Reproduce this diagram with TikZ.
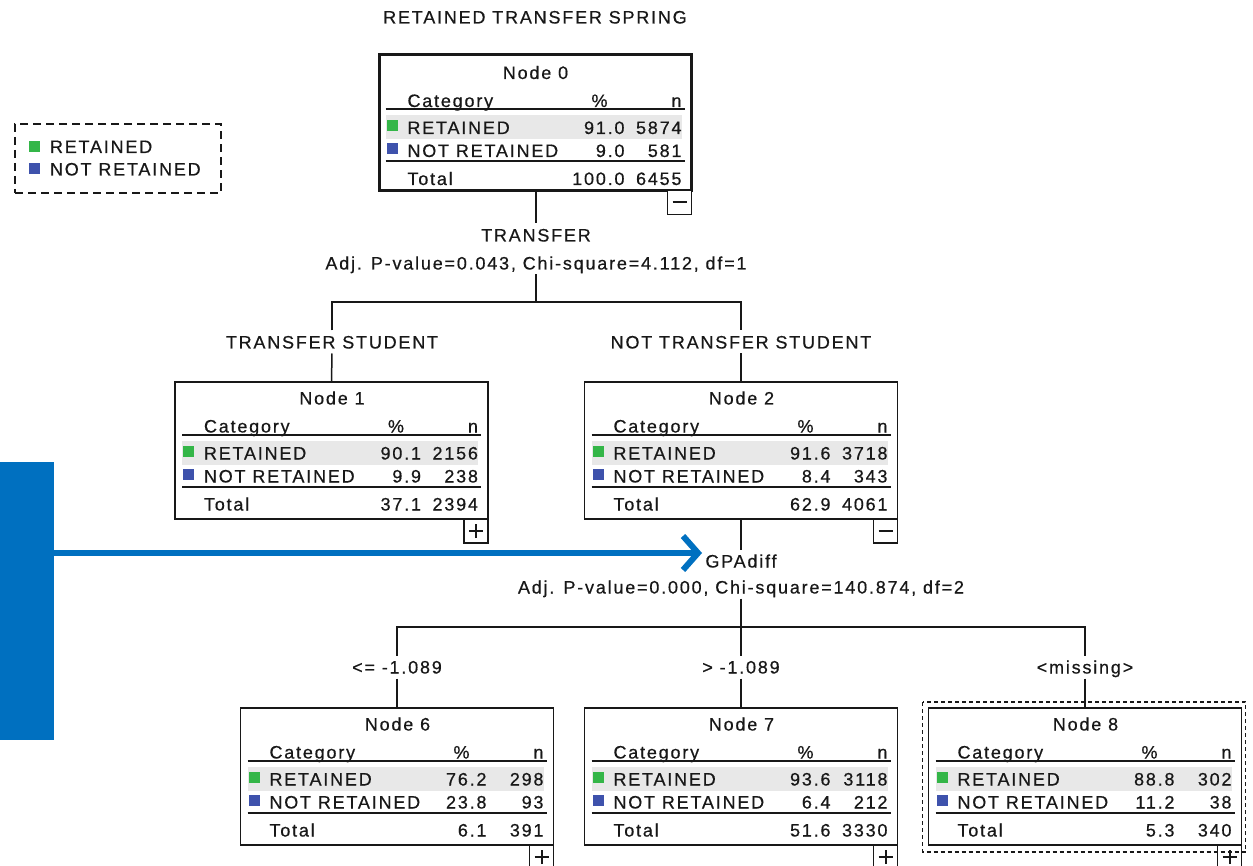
\documentclass[tikz,border=0pt]{standalone}
\usepackage{fontspec}
\setmainfont{Liberation Sans}[LetterSpace=10,FakeBold=0.5]
\usetikzlibrary{arrows.meta,calc}

\definecolor{catgreen}{RGB}{52,182,72}
\definecolor{catblue}{RGB}{62,82,172}
\definecolor{rowgray}{RGB}{232,232,232}
\definecolor{accent}{RGB}{0,112,192}
\definecolor{ink}{RGB}{24,24,24}

\tikzset{
  tx/.style={inner sep=0pt, outer sep=0pt, text height=13pt, text depth=0pt, text=ink},
  lbl/.style={tx, inner xsep=3pt, inner ysep=5pt},
  catbox/.style={draw=ink, line width=1.5pt, fill=white, minimum width=313pt,
    minimum height=137pt, inner sep=0pt, outer sep=0pt, anchor=north west},
  rootbox/.style={catbox, line width=3pt, minimum width=312pt, minimum height=136pt},
  togbox/.style={draw=ink, line width=1.5pt, fill=white, minimum width=24pt,
    minimum height=24pt, inner sep=0pt, outer sep=0pt, anchor=north east},
  signline/.style={draw=ink, line width=2pt},
  edge/.style={draw=ink, line width=1.5pt},
  rulebar/.style={draw=ink, line width=2pt},
  legendbox/.style={draw=ink, line width=1.5pt, dash pattern=on 8pt off 5pt,
    minimum width=206pt, minimum height=69pt, inner sep=0pt, outer sep=0pt, anchor=north west},
  selline/.style={draw=ink, line width=1.5pt, dash pattern=on 4pt off 3pt},
}

% category table inside a tree node: name, extra offset, title, then % and n for each row
\newcommand\cattable[9]{%
  \begin{scope}[shift={($(#1.north west)+(#2)$)}]
    \fill[rowgray] (7,59) rectangle (303,83);
    \draw[rulebar] (7,53) -- (306,53);
    \draw[rulebar] (7,105) -- (306,105);
    \fill[catgreen] (8,64) rectangle (19,75);
    \fill[catblue] (8,87) rectangle (19,98);
    \node[tx] (#1-title) at (157,16) {#3};
    \node[tx,anchor=west] (#1-cat) at (29,44) {Category};
    \node[tx] (#1-pcthead) at (221,44) {\%};
    \node[tx,anchor=east] (#1-nhead) at (303,44) {n};
    \node[tx,anchor=west] (#1-ret) at (29,71) {RETAINED};
    \node[tx,anchor=east] (#1-retp) at (246,71) {#4};
    \node[tx,anchor=east] (#1-retn) at (303,71) {#5};
    \node[tx,anchor=west] (#1-not) at (29,94) {NOT RETAINED};
    \node[tx,anchor=east] (#1-notp) at (246,94) {#6};
    \node[tx,anchor=east] (#1-notn) at (303,94) {#7};
    \node[tx,anchor=west] (#1-tot) at (29,122) {Total};
    \node[tx,anchor=east] (#1-totp) at (246,122) {#8};
    \node[tx,anchor=east] (#1-totn) at (303,122) {#9};
  \end{scope}}

% expand / collapse toggles below a node
\newcommand\plustog[1]{%
  \node[togbox] (#1-tog) at (#1.south east) {};
  \draw[signline] ([xshift=-7pt]#1-tog.center) -- ([xshift=7pt]#1-tog.center);
  \draw[signline] ([yshift=-7pt]#1-tog.center) -- ([yshift=7pt]#1-tog.center);}
\newcommand\minustog[1]{%
  \node[togbox] (#1-tog) at (#1.south east) {};
  \draw[signline] ([xshift=-7pt]#1-tog.center) -- ([xshift=7pt]#1-tog.center);}

\begin{document}
\begin{tikzpicture}[x=1pt, y=-1pt, font=\fontsize{18}{20}\selectfont]
\useasboundingbox[fill=white] (0,0) rectangle (1253,866);

% title and legend
\node[lbl] (title) at (535,17) {RETAINED TRANSFER SPRING};
\node[legendbox] (legend) at (15,124) {};
\fill[catgreen] (29,141) rectangle (40,152);
\fill[catblue] (29,163) rectangle (40,174);
\node[tx,anchor=west] (legret) at (50,146.5) {RETAINED};
\node[tx,anchor=west] (legnot) at (50,169) {NOT RETAINED};

% tree nodes
\node[rootbox] (n0) at (379.5,54.5) {};
\cattable{n0}{-1,2}{Node 0}{91.0}{5874}{9.0}{581}{100.0}{6455}
\minustog{n0}

\node[catbox] (n1) at (175,382) {};
\cattable{n1}{0,0}{Node 1}{90.1}{2156}{9.9}{238}{37.1}{2394}
\plustog{n1}

\node[catbox] (n2) at (584.5,382) {};
\cattable{n2}{0,0}{Node 2}{91.6}{3718}{8.4}{343}{62.9}{4061}
\minustog{n2}

\node[catbox] (n6) at (240.5,708) {};
\cattable{n6}{0,0}{Node 6}{76.2}{298}{23.8}{93}{6.1}{391}
\plustog{n6}

\node[catbox] (n7) at (584.5,708) {};
\cattable{n7}{0,0}{Node 7}{93.6}{3118}{6.4}{212}{51.6}{3330}
\plustog{n7}

\node[catbox] (n8) at (928.5,708) {};
\cattable{n8}{0,0}{Node 8}{88.8}{302}{11.2}{38}{5.3}{340}
\plustog{n8}
\draw[selline] ($(n8.north west)+(-6,-6)$) rectangle ($(n8.south east)+(4,7)$);

% first split
\node[lbl] (v0) at (536,235) {TRANSFER};
\node[lbl] (a0) at (536,263) {Adj. P-value=0.043, Chi-square=4.112, df=1};
\coordinate (s0) at (536,302);
\node[lbl] (l1) at (332,342) {TRANSFER STUDENT};
\node[lbl] (l2) at (741,342) {NOT TRANSFER STUDENT};
\draw[edge] (n0.south -| v0) -- (v0.north);
\draw[edge] (a0.south) -- (s0);
\draw[edge] (l1.north) |- (s0) -| (l2.north);
\draw[edge] (l1.south) -- (n1.north);
\draw[edge] (l2.south) -- (n2.north);

% second split
\node[lbl] (v2) at (741,561) {GPAdiff};
\node[lbl] (a2) at (741,587) {Adj. P-value=0.000, Chi-square=140.874, df=2};
\coordinate (s2) at (741,627);
\node[lbl] (l6) at (397,667) {<= -1.089};
\node[lbl] (l7) at (741,667) {> -1.089};
\node[lbl] (l8) at (1085,667) {<missing>};
\draw[edge] (n2.south) -- (v2.north);
\draw[edge] (a2.south) -- (s2);
\draw[edge] (l6.north) |- (s2) -| (l8.north);
\draw[edge] (l7.north) -- (s2);
\draw[edge] (l6.south) -- (n6.north);
\draw[edge] (l7.south) -- (n7.north);
\draw[edge] (l8.south) -- (n8.north);

% highlight bar and pointer
\node[fill=accent, minimum width=54pt, minimum height=278pt, inner sep=0pt,
  outer sep=0pt, anchor=north west] (side) at (0,462) {};
\coordinate (tip) at (702,553);
\draw[accent, line width=6pt, -{Straight Barb[length=15pt,width=34pt]}]
  (side.east |- tip) -- (tip);
\end{tikzpicture}
\end{document}
